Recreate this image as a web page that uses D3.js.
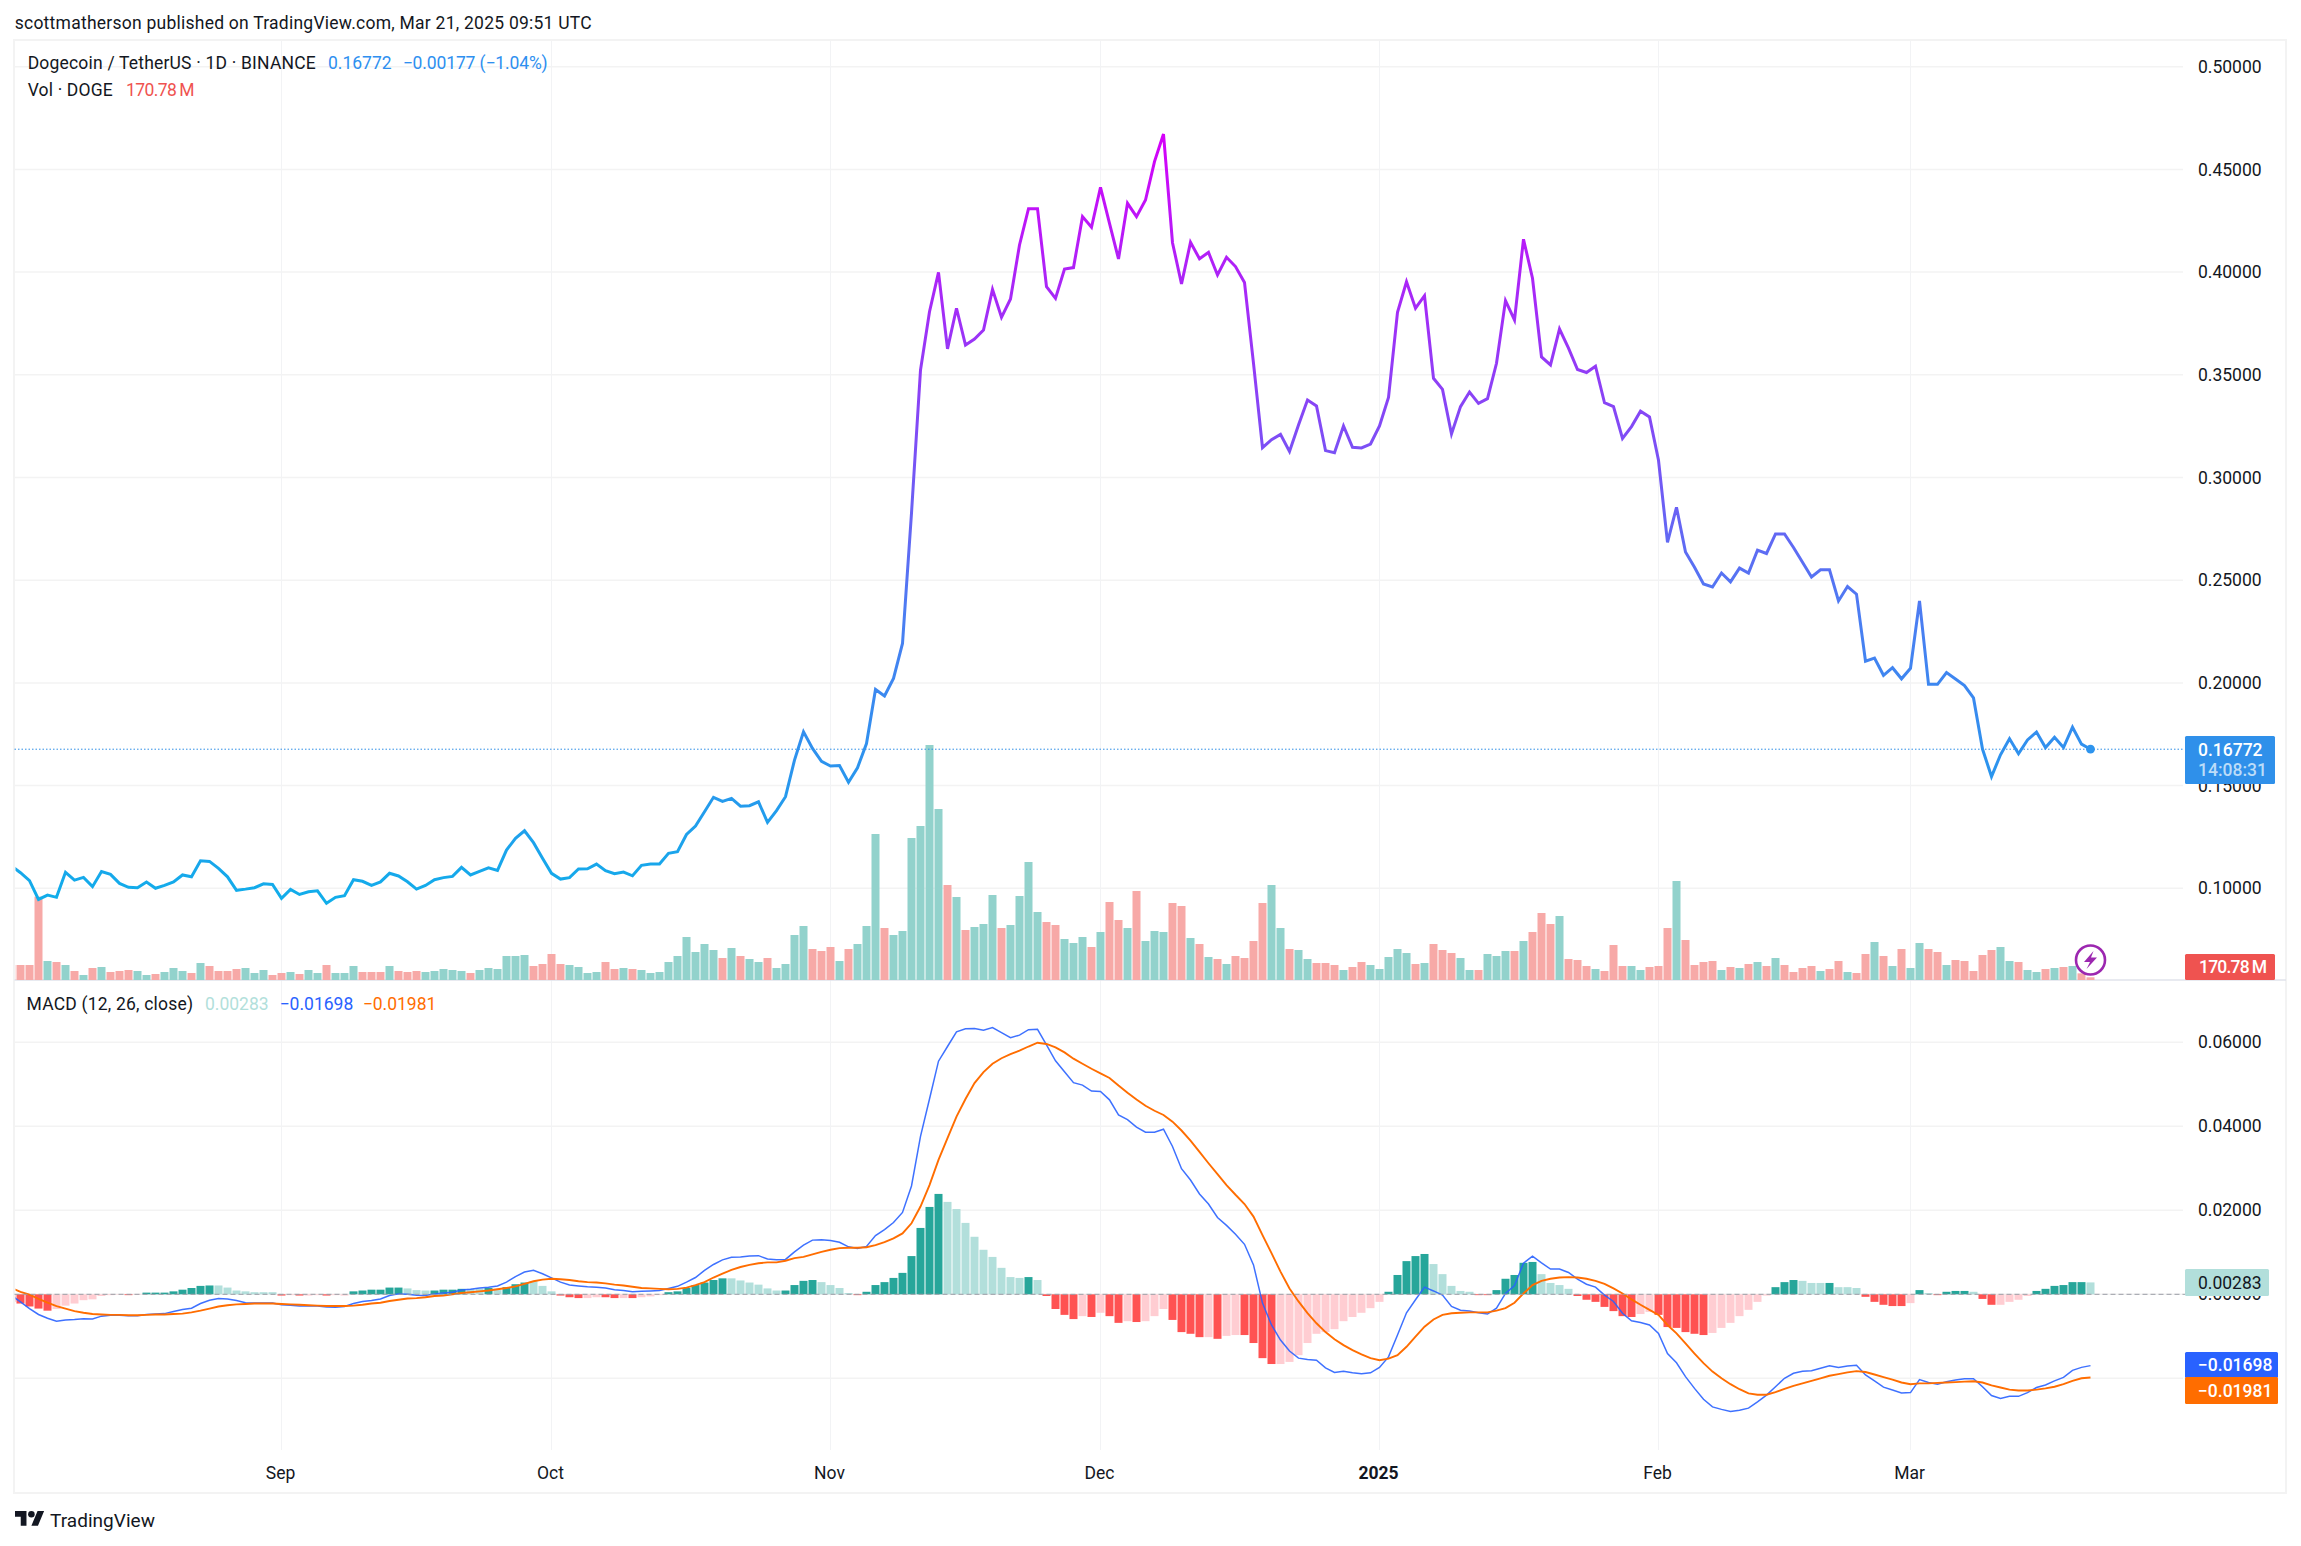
<!DOCTYPE html>
<html><head><meta charset="utf-8">
<script src="https://cdnjs.cloudflare.com/ajax/libs/d3/7.8.5/d3.min.js"></script>
<style>html,body{margin:0;padding:0;background:#fff}svg{display:block;font-family:Roboto,sans-serif}</style>
</head><body><svg id="c" width="2301" height="1546"></svg>
<script>
const firstDay = "2024-08-02";
const monthTicks = [["2024-09-01","Sep"],["2024-10-01","Oct"],["2024-11-01","Nov"],["2024-12-01","Dec"],["2025-01-01","2025"],["2025-02-01","Feb"],["2025-03-01","Mar"]];
const priceTicks = [0.10,0.15,0.20,0.25,0.30,0.35,0.40,0.45,0.50];
const macdTicks = [0,0.02,0.04,0.06];
const macdGrid = [-0.02,0,0.02,0.04,0.06];
const closes = [
.1108,.1076,.1037,.0946,.0967,.0956,.1078,.1040,.1053,.1008,
.1082,.1068,.1024,.1005,.1003,.1031,.1000,.1014,.1031,.1065,
.1056,.1134,.1131,.1097,.1056,.0990,.0996,.1003,.1022,.1019,
.0951,.0995,.0970,.0983,.0988,.0927,.0956,.0964,.1042,.1034,
.1014,.1031,.1073,.1060,.1032,.0996,.1014,.1042,.1052,.1058,
.1102,.1065,.1082,.1100,.1087,.1186,.1243,.1280,.1222,.1146,
.1073,.1045,.1052,.1094,.1095,.1118,.1086,.1071,.1079,.1061,
.1112,.1118,.1118,.1170,.1178,.1262,.1303,.1373,.1443,.1423,
.1438,.1400,.1402,.1421,.1321,.1378,.1446,.1624,.1762,.1681,
.1618,.1595,.1598,.1516,.1587,.1705,.1968,.1936,.2022,.2192,
.2827,.3523,.3807,.3999,.3626,.3824,.3645,.3674,.3718,.3916,
.3780,.3869,.4132,.4309,.4309,.3929,.3872,.4015,.4022,.4270,
.4218,.4413,.4237,.4064,.4335,.4270,.4351,.4538,.4672,.4143,
.3942,.4145,.4065,.4096,.3986,.4072,.4027,.3949,.3556,.3145,
.3184,.3210,.3127,.3256,.3377,.3348,.3131,.3121,.3251,.3147,
.3144,.3163,.3251,.3390,.3804,.3953,.3824,.3885,.3483,.3429,
.3212,.3345,.3416,.3361,.3384,.3556,.3861,.3767,.4160,.3970,
.3587,.3548,.3723,.3630,.3526,.3511,.3542,.3364,.3345,.3190,
.3248,.3323,.3295,.3084,.2684,.2855,.2637,.2563,.2482,.2467,
.2535,.2492,.2559,.2535,.2646,.2630,.2725,.2725,.2659,.2587,
.2516,.2551,.2551,.2399,.2469,.2432,.2106,.2121,.2037,.2074,
.2020,.2071,.2399,.1993,.1993,.2050,.2019,.1987,.1927,.1678,
.1544,.1650,.1728,.1655,.1722,.1761,.1685,.1735,.1685,.1784,
.1702,.16772];
const volumes = [
945,945,945,5250,1197,1134,945,567,315,756,
819,504,567,630,567,315,378,504,756,567,
441,1071,882,567,567,693,756,441,630,315,
441,504,378,630,441,945,441,441,882,504,
504,504,882,567,504,567,504,567,693,630,
567,441,630,756,693,1512,1512,1575,882,1008,
1638,1008,945,819,441,504,1134,693,756,693,
630,441,504,1134,1512,2709,1764,2268,1890,1386,
2016,1512,1323,1134,1386,756,1008,2835,3402,1953,
1827,2079,1197,1953,2268,3402,9198,3276,2835,3087,
8946,9702,14805,10773,5985,5229,3150,3339,3528,5355,
3276,3465,5292,7434,4284,3654,3465,2583,2331,2709,
2079,3024,4914,3780,3276,5607,2457,3087,3024,4851,
4662,2646,2268,1449,1323,1008,1512,1386,2457,4851,
5985,3276,1953,1890,1323,1071,1071,945,630,819,
1134,945,693,1449,1953,1701,1008,1071,2268,1890,
1701,1386,630,630,1638,1512,1827,1827,2457,3024,
4221,3528,4032,1323,1260,882,693,567,2205,882,
882,630,819,882,3276,6237,2520,945,1134,1197,
630,819,756,1008,1134,882,1386,945,504,756,
882,567,693,1197,504,441,1638,2394,1512,882,
1953,756,2331,1953,1764,945,1260,1197,567,1575,
1890,2079,1197,1134,630,504,693,756,819,882,
420,170.78];
const volumeSides = "RRRRGRGRGR"+"GRRRGGRGGG"+"RGRRRRGGGR"+"RGRGGRGGGR"+"RRGRRRGGGG"+"GRGGGGGGRR"+"RRGGGGRRGR"+"GGGGGGGGGR"+"GRGGRGGGGR"+"RRGRGGGRGG"+"GGGGRGRGGG"+"RGGGGRRGGG"+"RGRRGRGGGR"+"RGRGRGRRRR"+"GGRGGRRRGR"+"RGGGGGRGRR"+"RGGRGGGRGR"+"RRGRRRGRRR"+"GGRRRGRRRR"+"GRGRGRGRRR"+"RGRRGRRGRG"+"RGGRRGRRRR"+"RGGRGGRGRG"+"RR";
const macdLine = [
-.0003,-.0018,-.0034,-.0048,-.0057,-.0064,-.0061,-.0060,-.0058,-.0059,
-.0052,-.0050,-.0050,-.0051,-.0051,-.0048,-.0047,-.0046,-.0041,-.0036,
-.0033,-.0022,-.0014,-.0010,-.0011,-.0015,-.0020,-.0021,-.0021,-.0021,
-.0025,-.0026,-.0028,-.0027,-.0028,-.0030,-.0031,-.0029,-.0022,-.0017,
-.0015,-.0011,-.0003,.0001,0,-.0002,-.0003,.0001,.0003,.0005,
.0010,.0012,.0015,.0017,.0020,.0029,.0042,.0053,.0057,.0049,
.0039,.0029,.0022,.0020,.0018,.0017,.0015,.0011,.0009,.0006,
.0007,.0008,.0009,.0014,.0019,.0029,.0040,.0057,.0071,.0082,
.0088,.0089,.0091,.0092,.0084,.0082,.0083,.0101,.0117,.0129,
.0130,.0128,.0124,.0113,.0109,.0114,.0140,.0154,.0171,.0195,
.0258,.0376,.0465,.0555,.0590,.0625,.0632,.0633,.0629,.0635,
.0623,.0611,.0617,.0630,.0631,.0594,.0556,.0530,.0504,.0498,
.0484,.0483,.0463,.0427,.0416,.0398,.0386,.0386,.0393,.0352,
.0299,.0272,.0239,.0215,.0183,.0164,.0143,.0119,.0070,-.0021,
-.0073,-.0109,-.0135,-.0152,-.0155,-.0157,-.0175,-.0186,-.0183,-.0187,
-.0189,-.0187,-.0174,-.0149,-.0097,-.0044,-.0013,.0017,.0008,-.0002,
-.0029,-.0038,-.0040,-.0044,-.0047,-.0033,.0002,.0021,.0074,.0091,
.0075,.0060,.0060,.0052,.0036,.0024,.0017,-.0002,-.0017,-.0045,
-.0063,-.0067,-.0073,-.0093,-.0141,-.0163,-.0196,-.0224,-.0250,-.0268,
-.0274,-.0279,-.0276,-.0271,-.0256,-.0240,-.0220,-.0200,-.0188,-.0183,
-.0182,-.0176,-.0170,-.0174,-.0171,-.0169,-.0192,-.0206,-.0221,-.0228,
-.0235,-.0234,-.0203,-.0210,-.0214,-.0208,-.0204,-.0201,-.0201,-.0220,
-.0241,-.0248,-.0243,-.0243,-.0234,-.0222,-.0216,-.0206,-.0198,-.0181,
-.0174,-.01698];
const signalLine = [
.0015,.0006,-.0001,-.0011,-.0020,-.0028,-.0034,-.0040,-.0044,-.0047,
-.0048,-.0049,-.0049,-.0050,-.0050,-.0049,-.0048,-.0048,-.0047,-.0046,
-.0043,-.0039,-.0034,-.0029,-.0026,-.0024,-.0023,-.0022,-.0022,-.0022,
-.0023,-.0024,-.0025,-.0026,-.0027,-.0028,-.0028,-.0028,-.0027,-.0025,
-.0022,-.0020,-.0016,-.0013,-.0010,-.0009,-.0007,-.0004,-.0003,0,
.0003,.0005,.0007,.0009,.0012,.0015,.0019,.0025,.0031,.0035,
.0037,.0036,.0034,.0031,.0029,.0028,.0026,.0023,.0021,.0018,
.0015,.0014,.0013,.0012,.0013,.0016,.0022,.0029,.0040,.0049,
.0058,.0065,.0070,.0074,.0076,.0076,.0080,.0086,.0089,.0095,
.0101,.0106,.0110,.0111,.0111,.0112,.0117,.0124,.0133,.0145,
.0169,.0209,.0260,.0320,.0372,.0423,.0465,.0503,.0529,.0549,
.0562,.0572,.0580,.0590,.0599,.0596,.0588,.0576,.0561,.0549,
.0537,.0526,.0515,.0497,.0480,.0464,.0449,.0437,.0427,.0411,
.0390,.0366,.0339,.0312,.0286,.0260,.0237,.0215,.0185,.0141,
.0098,.0054,.0014,-.0017,-.0045,-.0069,-.0090,-.0107,-.0121,-.0133,
-.0143,-.0152,-.0157,-.0153,-.0145,-.0125,-.0101,-.0077,-.0060,-.0049,
-.0045,-.0044,-.0043,-.0043,-.0043,-.0039,-.0033,-.0020,.0002,.0022,
.0032,.0037,.0040,.0041,.0040,.0037,.0032,.0025,.0014,.0002,
-.0012,-.0025,-.0037,-.0049,-.0073,-.0093,-.0117,-.0141,-.0164,-.0184,
-.0200,-.0214,-.0226,-.0236,-.0239,-.0239,-.0233,-.0225,-.0218,-.0212,
-.0206,-.0200,-.0194,-.0190,-.0186,-.0183,-.0185,-.0191,-.0197,-.0203,
-.0210,-.0214,-.0212,-.0212,-.0211,-.0210,-.0209,-.0208,-.0207,-.0210,
-.0217,-.0222,-.0227,-.0229,-.0229,-.0227,-.0224,-.0220,-.0214,-.0206,
-.0200,-.01981];
const histogram = [
-.0018,-.0022,-.0029,-.0034,-.0039,-.0035,-.0027,-.0022,-.0014,-.0012,
-.0004,-.0002,-.0001,-.0002,-.0001,.0004,.0004,.0004,.0007,.0011,
.0015,.0020,.0021,.0021,.0016,.0009,.0007,.0005,.0005,.0005,
-.0003,-.0002,-.0003,-.0003,-.0002,-.0003,-.0002,-.0003,.0007,.0009,
.0011,.0011,.0016,.0016,.0014,.0010,.0009,.0009,.0011,.0011,
.0013,.0013,.0014,.0015,.0010,.0017,.0024,.0028,.0031,.0020,
.0007,-.0003,-.0007,-.0009,-.0009,-.0007,-.0007,-.0009,-.0009,-.0009,
-.0007,-.0005,-.0002,.0005,.0007,.0015,.0022,.0028,.0034,.0038,
.0038,.0033,.0028,.0023,.0014,.0009,.0009,.0022,.0032,.0034,
.0029,.0022,.0015,.0003,-.0002,.0006,.0022,.0029,.0039,.0051,
.0091,.0158,.0208,.0239,.0220,.0203,.0170,.0137,.0106,.0089,
.0063,.0041,.0039,.0041,.0034,-.0004,-.0035,-.0049,-.0059,-.0052,
-.0054,-.0044,-.0052,-.0068,-.0064,-.0066,-.0064,-.0052,-.0035,-.0061,
-.0090,-.0094,-.0102,-.0102,-.0106,-.0099,-.0097,-.0097,-.0116,-.0152,
-.0166,-.0166,-.0161,-.0145,-.0116,-.0094,-.0090,-.0083,-.0064,-.0054,
-.0044,-.0033,-.0018,.0006,.0046,.0079,.0091,.0096,.0072,.0048,
.0020,.0008,.0006,-.0002,-.0002,.0010,.0037,.0046,.0075,.0077,
.0048,.0027,.0022,.0013,-.0004,-.0013,-.0018,-.0030,-.0040,-.0052,
-.0054,-.0047,-.0042,-.0049,-.0078,-.0080,-.0090,-.0094,-.0097,-.0092,
-.0080,-.0068,-.0052,-.0037,-.0018,-.0003,.0017,.0029,.0034,.0032,
.0027,.0027,.0027,.0017,.0017,.0015,-.0006,-.0018,-.0025,-.0028,
-.0028,-.0021,.0010,.0003,-.0002,.0006,.0008,.0008,.0006,-.0011,
-.0025,-.0025,-.0018,-.0013,-.0004,.0008,.0013,.0020,.0022,.0029,
.0029,.00283];
const histShades = "RRRRRPPPPP"+"PPPRPGGGGG"+"GGGLLLLLLL"+"RPRPPRPPGG"+"GGGGLLLGGG"+"GLLGLGGGLL"+"LRRRPPRRPR"+"PPPGGGGGGG"+"LLLLLLGGGG"+"LLLLRGGGGG"+"GGGGLLLLLL"+"LLLGLRRRRP"+"RPRRPRPPPR"+"RRRPRPPRRR"+"RPPPPPPPPP"+"PPPGGGGGLL"+"LLLRRGGGGG"+"LLLLRRRRRR"+"RPPRRRRRRP"+"PPPPPPGGGL"+"LLGLLLRRRR"+"RPGLRGGGLR"+"RPPPPGGGGG"+"GL";

[closes,volumes,macdLine,signalLine,histogram].forEach(a=>{if(a.length!==232)throw new Error("len "+a.length)});
if(volumeSides.length!==232||histShades.length!==232)throw new Error("shade len");

const lastPrice=closes[231], lastVol=volumes[231], lastHist=histogram[231], lastMacd=macdLine[231], lastSig=signalLine[231];
const days=closes.map((_,i)=>d3.utcDay.offset(new Date(firstDay+"T00:00:00Z"),i));
const W=2301,H=1546,L=14.5,R=2286,T=41,B=1493,GR=2183,PANE=980,AXB=1450;
const x=d3.scaleUtc().domain([days[0],days[231]]).range([11.5,2090.5]);
const yP=d3.scaleLinear().domain([0.10,0.50]).range([888.3,66.7]);
const yV=d3.scaleLinear().domain([0,14805]).range([PANE,745]);
const yM=d3.scaleLinear().domain([-0.02,0.06]).range([1378.3,1042.3]);
const INK="#131722", FS=17.5;
const svg=d3.select("#c");
const defs=svg.append("defs");
defs.append("clipPath").attr("id","plot").append("rect").attr("x",L+1).attr("y",T).attr("width",GR-L).attr("height",AXB-T);
const grad=defs.append("linearGradient").attr("id","lg").attr("gradientUnits","userSpaceOnUse")
 .attr("x1",0).attr("x2",0).attr("y1",yP(d3.max(closes))).attr("y2",yP(d3.min(closes)));
[[0,"#d500f9"],[.41,"#7b50f5"],[.62,"#4c7cf2"],[.81,"#2e92ee"],[1,"#10aeea"]].forEach(s=>grad.append("stop").attr("offset",s[0]).attr("stop-color",s[1]));

svg.append("rect").attr("width",W).attr("height",H).attr("fill","#fff");
// grid
const grid=svg.append("g").attr("stroke","#f3f3f3").attr("stroke-width",1.5);
grid.selectAll(".h").data(priceTicks).join("line").attr("x1",L).attr("x2",GR).attr("y1",d=>yP(d)).attr("y2",d=>yP(d));
grid.selectAll(".m").data(macdGrid).join("line").attr("x1",L).attr("x2",GR).attr("y1",d=>yM(d)).attr("y2",d=>yM(d));
const tickDates=monthTicks.map(d=>new Date(d[0]+"T00:00:00Z"));
grid.selectAll(".v").data(tickDates).join("line").attr("stroke","#f2f3f5").attr("stroke-width",1).attr("x1",d=>x(d)).attr("x2",d=>x(d)).attr("y1",T).attr("y2",AXB);
// frame
svg.append("rect").attr("x",L-0.5).attr("y",T-1).attr("width",R-L+0.5).attr("height",B-T+1).attr("fill","none").attr("stroke","#f3f3f3").attr("stroke-width",2);
svg.append("line").attr("x1",L).attr("x2",R).attr("y1",PANE).attr("y2",PANE).attr("stroke","#e0e3eb").attr("stroke-width",1.5);

const plot=svg.append("g").attr("clip-path","url(#plot)");
// volume
plot.append("g").selectAll("rect").data(volumes).join("rect")
 .attr("x",(d,i)=>x(days[i])-4).attr("width",8).attr("y",d=>yV(d)).attr("height",d=>PANE-yV(d))
 .attr("fill",(d,i)=>volumeSides[i]==="G"?"#92d2cc":"#f7a9a7");
// dotted price line
svg.append("line").attr("x1",L).attr("x2",GR).attr("y1",yP(lastPrice)).attr("y2",yP(lastPrice))
 .attr("stroke","#2f8ee6").attr("stroke-width",1).attr("stroke-dasharray","1.5 2");
// price
const line=d3.line().x((d,i)=>x(days[i]));
plot.append("path").attr("fill","none").attr("stroke","url(#lg)").attr("stroke-width",3).attr("stroke-linejoin","miter")
 .attr("d",line.y(d=>yP(d))(closes));
svg.append("circle").attr("cx",x(days[231])).attr("cy",yP(lastPrice)).attr("r",4.4).attr("fill","#2e94ee");
// histogram
const histCol={G:"#26a69a",L:"#b2dfdb",R:"#ff5252",P:"#ffcdd2"};
plot.append("g").selectAll("rect").data(histogram).join("rect")
 .attr("x",(d,i)=>x(days[i])-4).attr("width",8)
 .attr("y",d=>Math.min(yM(d),yM(0))).attr("height",d=>Math.abs(yM(d)-yM(0)))
 .attr("fill",(d,i)=>histCol[histShades[i]]);
svg.append("line").attr("x1",L).attr("x2",2185).attr("y1",yM(0)).attr("y2",yM(0)).attr("stroke","#9a9da6").attr("stroke-width",1).attr("stroke-dasharray","5 3");
plot.append("path").attr("fill","none").attr("stroke","#2962ff").attr("stroke-width",1.5).attr("d",line.y(d=>yM(d))(macdLine)).attr("stroke-opacity",.9);
plot.append("path").attr("fill","none").attr("stroke","#ff6d00").attr("stroke-width",1.9).attr("d",line.y(d=>yM(d))(signalLine));

// axes
const axP=svg.append("g").attr("transform","translate(2198,0)").call(d3.axisRight(yP).tickValues(priceTicks).tickSize(0).tickPadding(0).tickFormat(d3.format(".5f")));
const axM=svg.append("g").attr("transform","translate(2198,0)").call(d3.axisRight(yM).tickValues(macdTicks).tickSize(0).tickPadding(0).tickFormat(d3.format(".5f")));
const axT=svg.append("g").attr("transform","translate(-1.5,1467)").call(d3.axisBottom(x).tickValues(tickDates).tickSize(0).tickPadding(0).tickFormat((d,i)=>monthTicks[i][1]));
[axP,axM,axT].forEach(a=>{a.select(".domain").remove();a.selectAll("text").attr("fill",INK).style("font-size",FS+"px").style("font-family","Roboto,sans-serif")});
axT.selectAll("text").filter(d=>+d===+tickDates[4]).style("font-weight",700);

// text helper: opt.len fits the string to the width it has in the reference
function t(xp,yp,s,fill,opt={}){const e=svg.append("text").attr("x",xp).attr("y",yp).attr("dy",".35em").attr("fill",fill).style("font-size",(opt.fs||FS)+"px").style("font-weight",opt.w||400).attr("text-anchor",opt.a||"start").text(s);
 if(opt.len)e.attr("textLength",opt.len).attr("lengthAdjust","spacing");return e}
t(14.7,23,"scottmatherson published on TradingView.com, Mar 21, 2025 09:51 UTC",INK,{len:577});
t(27.7,63,"Dogecoin / TetherUS · 1D · BINANCE",INK,{len:288});
t(328,63,d3.format(".5f")(lastPrice),"#2e8ff0");
t(402.7,63,"−0.00177 (−1.04%)","#2e8ff0",{len:145});
t(27.7,90,"Vol · DOGE",INK,{len:85});
t(126,90,"170.78\u2009M","#ef5350",{len:68.5});
t(26.5,1003.5,"MACD (12, 26, close)",INK,{len:166.5});
t(205,1003.5,d3.format(".5f")(lastHist),"#b2dfdb");
t(279.6,1003.5,"−"+d3.format(".5f")(-lastMacd),"#2962ff");
t(362.7,1003.5,"−"+d3.format(".5f")(-lastSig),"#ff6d00");

// price boxes
function box(x0,x1,y0,y1,fill){svg.append("rect").attr("x",x0).attr("y",y0).attr("width",x1-x0).attr("height",y1-y0).attr("rx",1.5).attr("fill",fill)}
box(2185,2275,736,784,"#2f90ea");
t(2198,750,d3.format(".5f")(lastPrice),"#fff",{w:500});
t(2198,770,"14:08:31","#bcdcf8",{w:500});
box(2185,2275,954,980,"#ef5350");
t(2199,967,"170.78\u2009M","#fff",{w:500,len:68});
box(2185,2269,1269,1296,"#b2dfdb");
t(2198,1282.5,d3.format(".5f")(lastHist),"#131722");
box(2185,2278,1352,1378,"#2962ff");
t(2198,1365,"−"+d3.format(".5f")(-lastMacd),"#fff",{w:500});
box(2185,2278,1377,1404,"#ff6d00");
t(2198,1390.5,"−"+d3.format(".5f")(-lastSig),"#fff",{w:500});

// lightning badge at the last bar
const bx=x(days[231]), by=960;
const badge=svg.append("g").attr("transform",`translate(${bx},${by})`);
badge.append("circle").attr("r",14.5).attr("fill","#fff").attr("stroke","#9c27b0").attr("stroke-width",2.6);
badge.append("path").attr("d","M3,-9 L-6.5,2 L-0.5,2 L-4,9 L6.5,-2.5 L0.5,-2.5 Z").attr("fill","#9c27b0");

// logo
const logo=svg.append("g").attr("transform","translate(15,1507.7) scale(0.82)").attr("fill","#131722");
logo.append("path").attr("d","M14 22H7V11H0V4h14v18zM28 22h-8l7.5-18h8L28 22z");
logo.append("circle").attr("cx",20).attr("cy",8).attr("r",4);
t(50,1520,"TradingView",INK,{fs:19,len:105});
</script></body></html>
